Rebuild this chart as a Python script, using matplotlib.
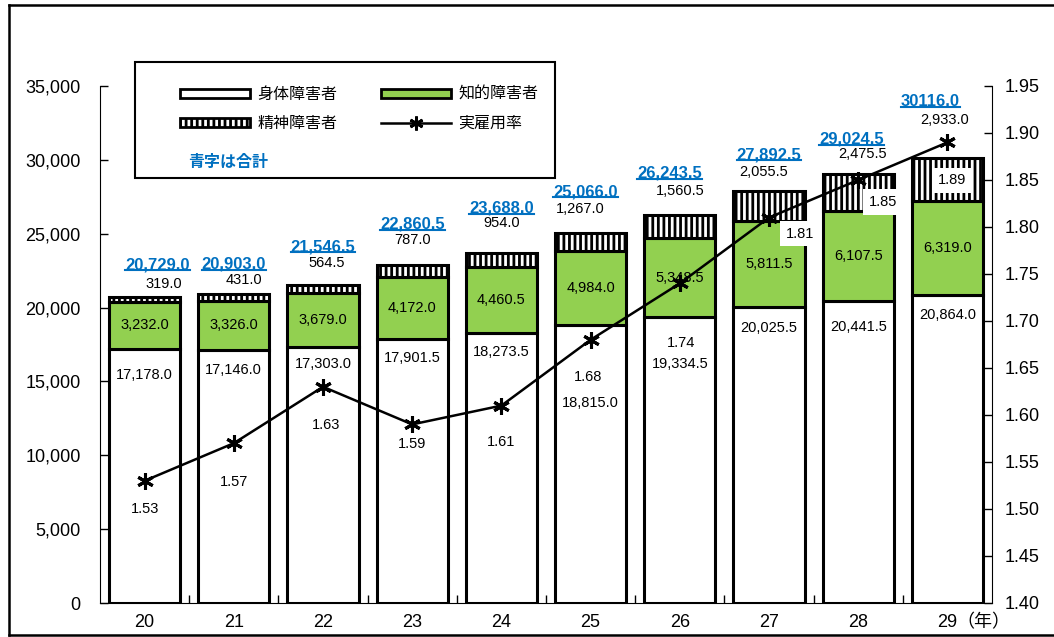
import matplotlib
matplotlib.use('Agg')
import matplotlib.pyplot as plt
from matplotlib.lines import Line2D
from matplotlib.patches import Patch, Rectangle
from matplotlib.ticker import FuncFormatter, MultipleLocator

plt.rcParams['font.family'] = ['Liberation Sans', 'Noto Sans CJK JP', 'DejaVu Sans']
plt.rcParams['hatch.linewidth'] = 2.0
plt.rcParams['hatch.color'] = 'black'

# 年度(平成)
years = ['20', '21', '22', '23', '24', '25', '26', '27', '28', '29']
physical = [17178.0, 17146.0, 17303.0, 17901.5, 18273.5, 18815.0, 19334.5, 20025.5, 20441.5, 20864.0]
intellectual = [3232.0, 3326.0, 3679.0, 4172.0, 4460.5, 4984.0, 5348.5, 5811.5, 6107.5, 6319.0]
mental = [319.0, 431.0, 564.5, 787.0, 954.0, 1267.0, 1560.5, 2055.5, 2475.5, 2933.0]
totals = [20729.0, 20903.0, 21546.5, 22860.5, 23688.0, 25066.0, 26243.5, 27892.5, 29024.5, 30116.0]
total_text = ['20,729.0', '20,903.0', '21,546.5', '22,860.5', '23,688.0',
              '25,066.0', '26,243.5', '27,892.5', '29,024.5', '30116.0']
rate = [1.53, 1.57, 1.63, 1.59, 1.61, 1.68, 1.74, 1.81, 1.85, 1.89]

# ラベル位置の微調整 (px)
phys_off = [26, 20, 17, 19, 19, 78, 47, 21, 26, 20]
mental_off = [13, 14, 22, 25, 30, 24, 24, 19, 20, 38]
mental_dx = [19, 10, 4, 0, 0, -10, 0, -5, 4, -3]
total_off = [32, 30, 38, 41, 45, 41, 42, 36, 35, 57]
total_dx = [13, 0, 0, 0, 0, -5, -10, 0, -7, -17]
rate_dx = [0, 0, 3, 0, 0, -3, 1, 31, 25, 5]
rate_dy = [28, 39, 38, 20, 36, 37, 60, 16, 22, 38]

GREEN = '#92D050'
BLUE = '#0070C0'
px = 0.72  # px -> pt

fig = plt.figure(figsize=(10.54, 6.37), dpi=100)
W, H = 1054, 637
ax = fig.add_axes([100 / W, 1 - 603 / H, 892 / W, (603 - 86) / H])

x = list(range(len(years)))
bottom2 = [p + i for p, i in zip(physical, intellectual)]
ax.bar(x, physical, 0.8, color='white', edgecolor='black', linewidth=2.2, zorder=2)
ax.bar(x, intellectual, 0.8, bottom=physical, color=GREEN, edgecolor='black', linewidth=2.2, zorder=2)
ax.bar(x, mental, 0.8, bottom=bottom2, color='white', edgecolor='black', linewidth=2.2,
       hatch='|||', zorder=2)

ax.set_xlim(-0.5, 9.5)
ax.set_ylim(0, 35000)
ax.yaxis.set_major_locator(MultipleLocator(5000))
ax.yaxis.set_major_formatter(FuncFormatter(lambda v, p: f'{int(v):,}'))
ax.set_xticks(x)
ax.set_xticklabels(years)
ax.set_xticks([i + 0.5 for i in x[:-1]], minor=True)
ax.tick_params(axis='x', which='major', length=0, labelsize=13, pad=8)
ax.tick_params(axis='x', which='minor', direction='in', length=6, width=1)
ax.tick_params(axis='y', direction='in', length=6, width=1, labelsize=13, pad=14)
ax.spines['top'].set_visible(False)
ax.spines['right'].set_visible(False)

ax2 = ax.twinx()
ax2.set_ylim(1.40, 1.95)
ax2.yaxis.set_major_locator(MultipleLocator(0.05))
ax2.yaxis.set_major_formatter(FuncFormatter(lambda v, p: f'{v:.2f}'))
ax2.tick_params(axis='y', direction='in', length=6, width=1, labelsize=13, pad=9)
for s in ['top', 'left', 'bottom']:
    ax2.spines[s].set_visible(False)

ax2.plot(x, rate, color='black', linewidth=1.8, marker=(6, 2, 0), markersize=12,
         markeredgewidth=2.2, zorder=5)

# 値ラベル
lab = dict(fontsize=10.5, ha='center', va='center', textcoords='offset points')
for i in x:
    ax.annotate(f'{physical[i]:,.1f}', (i, physical[i]), xytext=(0, -phys_off[i] * px), zorder=4, **lab)
    ax.annotate(f'{intellectual[i]:,.1f}', (i, physical[i] + intellectual[i] / 2),
                xytext=(0, 0), zorder=4, **lab)
    ax.annotate(f'{mental[i]:,.1f}', (i, totals[i]),
                xytext=(mental_dx[i] * px, mental_off[i] * px), zorder=4, **lab)

tot_texts = []
for i in x:
    t = ax.annotate(total_text[i], (i, totals[i]), xytext=(total_dx[i] * px, total_off[i] * px),
                    textcoords='offset points', ha='center', va='center',
                    fontsize=12, fontweight='bold', color=BLUE, zorder=4)
    tot_texts.append(t)

for i in x:
    box = None
    if i >= 7:
        box = dict(facecolor='white', edgecolor='none', pad=4)
    ax2.annotate(f'{rate[i]:.2f}', (i, rate[i]), xytext=(rate_dx[i] * px, -rate_dy[i] * px),
                 bbox=box, zorder=6, **lab)

fig.text(983 / W, 1 - 622 / H, '（年）', fontsize=13, ha='center', va='center',
         family=['Noto Sans CJK JP'])

# 凡例
fig.add_artist(Rectangle((135 / W, 1 - 178 / H), 420 / W, 116 / H, transform=fig.transFigure,
                         facecolor='white', edgecolor='black', linewidth=1.5, zorder=3))
handles = [
    Patch(facecolor='white', edgecolor='black', linewidth=2),
    Patch(facecolor='white', edgecolor='black', linewidth=2, hatch='|||'),
    Patch(facecolor=GREEN, edgecolor='black', linewidth=2),
    Line2D([], [], color='black', linewidth=1.8, marker=(6, 2, 0), markersize=10, markeredgewidth=2),
]
labels = ['身体障害者', '精神障害者', '知的障害者', '実雇用率']
leg = fig.legend(handles, labels, loc='upper left', bbox_to_anchor=(180 / W, 1 - 86 / H),
                 ncol=2, frameon=False, borderpad=0, borderaxespad=0,
                 handlelength=4.4, handleheight=0.5, handletextpad=0.45,
                 columnspacing=2.7, labelspacing=0.75,
                 prop={'family': ['Noto Sans CJK JP'], 'size': 11.5})
leg.set_zorder(5)
fig.text(188 / W, 1 - 162 / H, '青字は合計', fontsize=11.5, color=BLUE, fontweight='bold',
         va='center', family=['Noto Sans CJK JP'], zorder=6)

# 外枠
for xs, ys in [([9, 9], [5, 635]), ([9, W], [5, 5]), ([9, W], [635, 635])]:
    fig.add_artist(Line2D([v / W for v in xs], [1 - v / H for v in ys], transform=fig.transFigure,
                          color='black', linewidth=1.8))

# 合計値に下線
fig.canvas.draw()
r = fig.canvas.get_renderer()
for t in tot_texts:
    bb = t.get_window_extent(r)
    fig.add_artist(Line2D([bb.x0 / W, bb.x1 / W], [(bb.y0 + 2) / H] * 2, transform=fig.transFigure,
                          color=BLUE, linewidth=1.5, zorder=5))

fig.savefig('out.png', dpi=100)
